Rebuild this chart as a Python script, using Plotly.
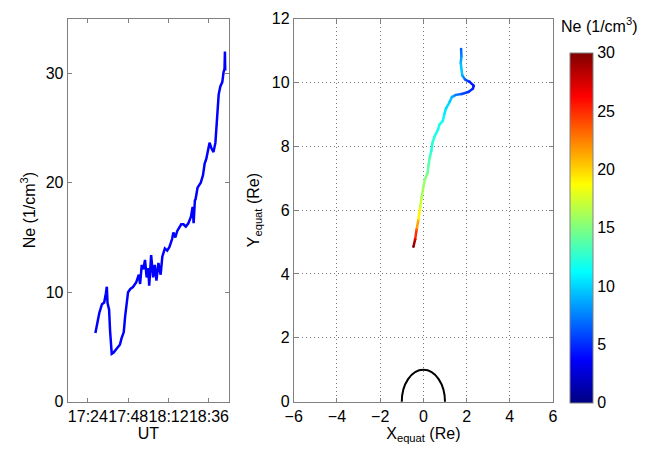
import plotly.graph_objects as go
from plotly.colors import sample_colorscale

# ---- left panel: Ne time series ----
times = ["17:28:28", "17:29:27", "17:30:47", "17:32:22", "17:33:42", "17:34:41", "17:35:16",
         "17:35:41", "17:36:37", "17:37:11", "17:38:11", "17:39:10", "17:40:41", "17:42:05",
         "17:43:01", "17:44:00", "17:45:20", "17:46:09", "17:46:54", "17:47:53", "17:49:14",
         "17:50:48", "17:52:43", "17:54:17", "17:55:03", "17:56:02", "17:56:58", "17:57:58",
         "17:58:57", "17:59:53", "18:00:28", "18:01:37", "18:02:47", "18:03:46", "18:04:46",
         "18:05:56", "18:07:16", "18:08:15", "18:09:46", "18:11:10", "18:12:30", "18:14:04",
         "18:14:50", "18:15:59", "18:17:09", "18:18:19", "18:19:29", "18:20:49", "18:22:13",
         "18:23:44", "18:25:18", "18:26:17", "18:26:52", "18:27:38", "18:28:02", "18:29:12",
         "18:31:07", "18:32:27", "18:33:26", "18:34:26", "18:35:22", "18:36:21", "18:37:20",
         "18:38:41", "18:39:50", "18:40:50", "18:41:46", "18:42:45", "18:43:55", "18:44:40",
         "18:45:15", "18:45:29", "18:45:40"]
ne_series = [6.27, 7.1, 8.1, 8.9, 9.06, 9.88, 10.5,
             9.0, 8.4, 6.5, 4.37, 4.46, 4.75, 5.04,
             5.2, 5.78, 6.36, 7.8, 9.0, 10.0, 10.3,
             10.47, 10.9, 11.6, 10.75, 12.5, 12.1, 12.95,
             11.35, 12.2, 10.6, 13.4, 11.35, 12.5, 11.05,
             12.67, 11.6, 13.25, 14.0, 13.8, 14.13, 14.86,
             15.45, 15.0, 15.6, 15.9, 16.2, 16.2, 16.0,
             16.3, 16.9, 17.8, 16.3, 18.4, 18.5, 19.55,
             20.0, 20.7, 21.75, 22.2, 22.8, 23.66, 23.2,
             22.8, 23.66, 25.7, 28.06, 28.8, 29.2, 30.1,
             30.4, 32.0, 30.25]
ut_ticks = ["17:24", "17:48", "18:12", "18:36"]
ut_range = ["17:12", "18:48"]
ne_ticks = [0, 10, 20, 30]

# ---- right panel: equatorial trajectory coloured by Ne ----
traj_x = [1.745, 1.76, 1.73, 1.76, 1.80, 1.93, 2.14, 2.33, 2.29, 2.08, 1.78, 1.50, 1.32,
          1.20, 1.05, 0.97, 0.90, 0.75, 0.67, 0.52, 0.42, 0.37, 0.30, 0.24, 0.19, 0.07,
          -0.01, -0.08, -0.16, -0.23, -0.31, -0.38, -0.46]
traj_y = [11.05, 10.82, 10.62, 10.42, 10.22, 10.09, 10.02, 9.90, 9.80, 9.70, 9.64, 9.61,
          9.54, 9.37, 9.19, 9.01, 8.79, 8.69, 8.51, 8.31, 8.11, 7.86, 7.66, 7.41, 7.15,
          6.96, 6.70, 6.40, 6.05, 5.70, 5.40, 5.09, 4.85]
traj_ne = [6.3, 8, 9, 10, 9, 6.5, 4.5, 4.4, 4.8, 5.2, 6, 7.5, 9, 10, 10.3, 10.8, 11.5, 12,
           11.5, 12.2, 12.5, 12, 13.5, 13.8, 14.5, 15.5, 16, 16.3, 18, 20, 23, 27, 31]
xeq_ticks = [-6, -4, -2, 0, 2, 4, 6]
yeq_ticks = [0, 2, 4, 6, 8, 10, 12]
cbar_ticks = [0, 5, 10, 15, 20, 25, 30]
ne_min, ne_max = 0, 30
earth_radius = 1

jet = [[0, "rgb(0,0,128)"], [0.125, "rgb(0,0,255)"], [0.375, "rgb(0,255,255)"],
       [0.625, "rgb(255,255,0)"], [0.875, "rgb(255,0,0)"], [1, "rgb(128,0,0)"]]

W, H = 650, 453
def px(x):
    return x / W
def py(y):
    return 1 - y / H

FONT = "Liberation Sans, Arial, sans-serif"
DATE = "2000-01-01 "

fig = go.Figure()

fig.add_trace(go.Scatter(x=[DATE + t for t in times], y=ne_series, mode="lines",
                         line=dict(color="rgb(0,0,255)", width=2.5),
                         xaxis="x", yaxis="y", showlegend=False, hoverinfo="skip"))

def ncol(v):
    f = min(max((v - ne_min) / (ne_max - ne_min), 0), 1)
    return sample_colorscale(jet, [f])[0]

for i in range(len(traj_x) - 1):
    fig.add_trace(go.Scatter(x=traj_x[i:i + 2], y=traj_y[i:i + 2], mode="lines",
                             line=dict(color=ncol((traj_ne[i] + traj_ne[i + 1]) / 2), width=2.5),
                             xaxis="x2", yaxis="y2", showlegend=False, hoverinfo="skip"))

fig.add_trace(go.Scatter(x=traj_x, y=traj_y, mode="markers",
                         marker=dict(color=traj_ne, colorscale=jet, cmin=ne_min, cmax=ne_max,
                                     size=2.5, line=dict(width=0),
                                     colorbar=dict(x=px(573), xanchor="left", y=py(410),
                                                   yanchor="bottom", len=350, lenmode="pixels",
                                                   thickness=23, thicknessmode="pixels",
                                                   outlinecolor="#808080", outlinewidth=1,
                                                   tickvals=cbar_ticks, ticks="",
                                                   tickfont=dict(size=16, color="black", family=FONT),
                                                   xpad=0, ypad=0)),
                         xaxis="x2", yaxis="y2", showlegend=False, hoverinfo="skip"))

fig.add_shape(type="circle", xref="x2", yref="y2",
              x0=-earth_radius, x1=earth_radius, y0=-earth_radius, y1=earth_radius,
              line=dict(color="black", width=2))

axis_common = dict(showline=True, linecolor="#808080", linewidth=1, mirror="ticks",
                   ticks="inside", ticklen=4, tickcolor="#808080",
                   tickfont=dict(size=16, color="black", family=FONT),
                   zeroline=False)

grid_style = dict(showgrid=True, gridcolor="#7a7a7a", griddash="1px,3px", gridwidth=1)

fig.update_layout(
    width=W, height=H, margin=dict(l=0, r=0, t=0, b=0),
    paper_bgcolor="white", plot_bgcolor="white",
    font=dict(family=FONT, size=16, color="black"),
    xaxis=dict(domain=[px(60), px(225)], anchor="y", type="date",
               range=[DATE + ut_range[0], DATE + ut_range[1]],
               tickvals=[DATE + t for t in ut_ticks], ticktext=ut_ticks, tickangle=0,
               showgrid=False, title=dict(text="UT", standoff=2, font=dict(size=16)),
               **axis_common),
    yaxis=dict(domain=[py(409), py(11)], anchor="x", range=[0, 35], tickvals=ne_ticks,
               showgrid=False,
               title=dict(text="Ne (1/cm<sup>3</sup>)", standoff=6, font=dict(size=16)),
               **axis_common),
    xaxis2=dict(domain=[px(291), px(556)], anchor="y2", range=[-6, 6], tickvals=xeq_ticks,
                title=dict(text="X<sub>equat</sub> (Re)", standoff=2, font=dict(size=16)),
                **grid_style, **axis_common),
    yaxis2=dict(domain=[py(409), py(11)], anchor="x2", range=[0, 12], tickvals=yeq_ticks,
                title=dict(text="Y<sub>equat</sub> (Re)", standoff=8, font=dict(size=16)),
                **grid_style, **axis_common),
    annotations=[dict(text="Ne (1/cm<sup>3</sup>)", x=px(603), y=py(18), xref="paper",
                      yref="paper", showarrow=False, xanchor="center", yanchor="middle",
                      font=dict(size=16, color="black", family=FONT))],
)

fig.write_html("out.html")
